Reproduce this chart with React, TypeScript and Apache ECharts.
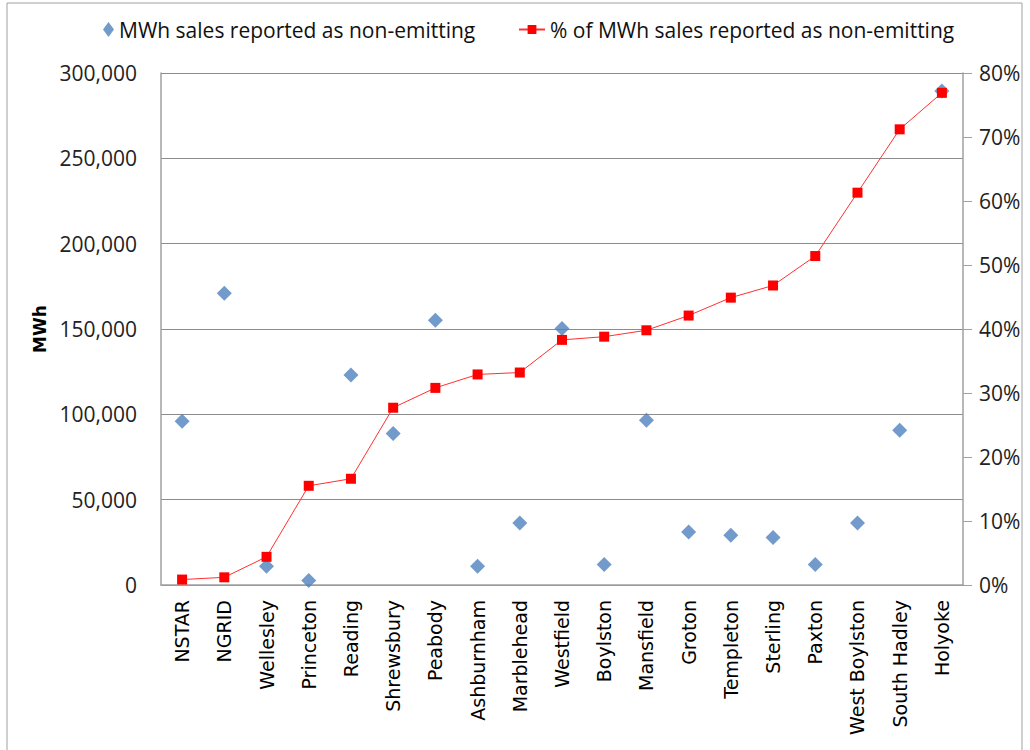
import React, { useEffect, useRef } from "react";
import * as echarts from "echarts";

const categories = [
  "NSTAR", "NGRID", "Wellesley", "Princeton", "Reading", "Shrewsbury", "Peabody",
  "Ashburnham", "Marblehead", "Westfield", "Boylston", "Mansfield", "Groton",
  "Templeton", "Sterling", "Paxton", "West Boylston", "South Hadley", "Holyoke",
];

const mwhValues = [
  96000, 171000, 11000, 2600, 123000, 88800, 155200, 11000, 36300, 150300,
  12000, 96500, 31000, 29100, 27800, 12000, 36300, 90700, 289400,
];

const pctValues = [
  0.0085, 0.012, 0.044, 0.155, 0.166, 0.277, 0.308, 0.329, 0.332, 0.383,
  0.388, 0.398, 0.421, 0.449, 0.468, 0.514, 0.613, 0.712, 0.769,
];

const leftTicks = { min: 0, max: 300000, interval: 50000 };
const rightTicks = { min: 0, max: 0.8, interval: 0.1 };

const seriesNames = ["MWh sales reported as non-emitting", "% of MWh sales reported as non-emitting"];

export default function App() {
  const ref = useRef<HTMLDivElement>(null);
  useEffect(() => {
    document.body.style.margin = "0";
    if (!ref.current) return;
    const chart = echarts.init(ref.current, undefined, { renderer: "svg" });
    const labelFont = "'Open Sans', sans-serif";
    const legendText = { fontFamily: labelFont, fontSize: 21, color: "#111" };
    chart.setOption({
      animation: false,
      backgroundColor: "#ffffff",
      graphic: [
        {
          type: "rect",
          shape: { x: 7, y: 3, width: 1015, height: 760 },
          style: { fill: "none", stroke: "#a0a0a0", lineWidth: 1 },
          silent: true,
        },
      ],
      legend: [
        {
          top: 14,
          left: 98,
          itemWidth: 11,
          itemHeight: 15,
          itemGap: 8,
          textStyle: legendText,
          data: [{ name: seriesNames[0], icon: "diamond" }],
        },
        {
          top: 14,
          left: 513,
          itemWidth: 26,
          itemHeight: 11,
          textStyle: legendText,
          data: [{ name: seriesNames[1] }],
        },
      ],
      grid: { left: 161, right: 67, top: 73, bottom: 165, containLabel: false },
      xAxis: {
        type: "category",
        data: categories,
        boundaryGap: true,
        axisLine: { lineStyle: { color: "#a0a0a0", width: 1.5 } },
        axisTick: { show: false },
        axisLabel: {
          rotate: 90,
          interval: 0,
          margin: 15,
          fontFamily: "'DejaVu Sans', sans-serif",
          fontSize: 19,
          color: "#000",
        },
      },
      yAxis: [
        {
          type: "value",
          min: leftTicks.min,
          max: leftTicks.max,
          interval: leftTicks.interval,
          name: "MWh",
          nameLocation: "middle",
          nameGap: 112,
          nameTextStyle: { fontFamily: "'DejaVu Sans', sans-serif", fontSize: 17, fontWeight: "bold", color: "#000" },
          axisLine: { show: true, lineStyle: { color: "#a0a0a0", width: 1.5 } },
          axisTick: { show: false },
          splitLine: { show: true, lineStyle: { color: "#8c8c8c", width: 1 } },
          axisLabel: {
            margin: 24,
            fontFamily: labelFont,
            fontSize: 21,
            color: "#222",
            formatter: (v: number) => v.toLocaleString("en-US"),
          },
        },
        {
          type: "value",
          min: rightTicks.min,
          max: rightTicks.max,
          interval: rightTicks.interval,
          position: "right",
          axisLine: { show: true, lineStyle: { color: "#a0a0a0", width: 1.5 } },
          axisTick: { show: true, length: 9, lineStyle: { color: "#a0a0a0" } },
          splitLine: { show: false },
          axisLabel: {
            margin: 16,
            fontFamily: labelFont,
            fontSize: 21,
            color: "#222",
            formatter: (v: number) => Math.round(v * 100) + "%",
          },
        },
      ],
      series: [
        {
          name: seriesNames[0],
          type: "scatter",
          yAxisIndex: 0,
          data: mwhValues,
          symbol: "diamond",
          symbolSize: [15, 15],
          itemStyle: { color: "#4F81BD" },
          z: 2,
        },
        {
          name: seriesNames[1],
          type: "line",
          yAxisIndex: 1,
          data: pctValues,
          symbol: "rect",
          symbolSize: 10,
          showSymbol: true,
          lineStyle: { color: "#FF3030", width: 1 },
          itemStyle: { color: "#FF0000" },
          z: 3,
        },
      ],
    });
    return () => chart.dispose();
  }, []);
  return <div ref={ref} style={{ width: 1030, height: 750 }} />;
}
